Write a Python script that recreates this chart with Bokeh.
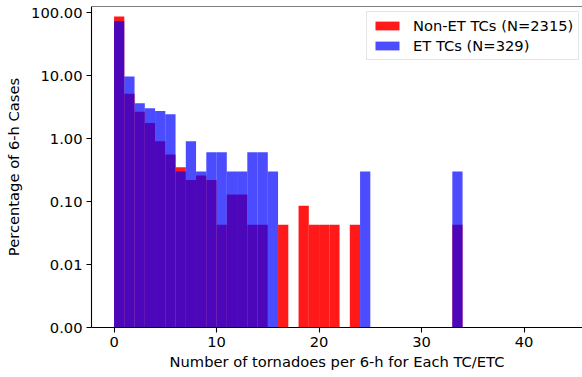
from bokeh.plotting import figure
from bokeh.models import Range1d, FixedTicker, CustomJSTickFormatter, Legend, LegendItem, Span, ColumnDataSource
from bokeh.embed import file_html
from bokeh.resources import INLINE

# Histogram bins: integer edges 0..44
bin_edges = list(range(0, 45))

# Percentage of 6-h cases per bin
non_et_pct = [87.13, 5.18, 2.68, 1.77, 0.91, 0.56, 0.35, 0.22, 0.26, 0.22,
              0.043, 0.13, 0.13, 0.043, 0.043, 0, 0.043, 0, 0.086, 0.043,
              0.043, 0.043, 0, 0.043, 0, 0, 0, 0, 0, 0,
              0, 0, 0, 0.043, 0, 0, 0, 0, 0, 0,
              0, 0, 0, 0]
et_pct = [72.95, 9.73, 3.65, 3.04, 2.74, 2.43, 0.30, 0.91, 0.30, 0.61,
          0.61, 0.30, 0.30, 0.61, 0.61, 0.30, 0, 0, 0, 0,
          0, 0, 0, 0, 0.30, 0, 0, 0, 0, 0,
          0, 0, 0, 0.30, 0, 0, 0, 0, 0, 0,
          0, 0, 0, 0]

non_et_label = "Non-ET TCs (N=2315)"
et_label = "ET TCs (N=329)"
x_ticks = [0, 10, 20, 30, 40]
y_ticks = [0.001, 0.01, 0.1, 1, 10, 100]
y_floor = 0.001

FONT = "DejaVu Sans"
FS = "14.7px"


def bars(pcts):
    lefts, rights, tops = [], [], []
    for i, v in enumerate(pcts):
        if v > 0:
            lefts.append(bin_edges[i])
            rights.append(bin_edges[i + 1])
            tops.append(v)
    return ColumnDataSource(dict(left=lefts, right=rights, top=tops,
                                 bottom=[y_floor] * len(tops)))


p = figure(width=582, height=377, output_backend="svg", toolbar_location=None,
           y_axis_type="log",
           x_range=Range1d(-2.2, 45.7), y_range=Range1d(y_floor, 125.6),
           min_border_left=91, min_border_right=0, min_border_top=6,
           min_border_bottom=50)
p.outline_line_color = None
p.background_fill_color = "white"
p.border_fill_color = "white"
p.xgrid.grid_line_color = None
p.ygrid.grid_line_color = None

r_red = p.quad(left="left", right="right", top="top", bottom="bottom",
               source=bars(non_et_pct), fill_color="#ff0000", fill_alpha=0.9,
               line_color=None)
r_blue = p.quad(left="left", right="right", top="top", bottom="bottom",
                source=bars(et_pct), fill_color="#0000ff", fill_alpha=0.7,
                line_color=None)

# top spine
p.add_layout(Span(location=125.6, dimension="width", line_color="black", line_width=1.1))

for ax in (p.xaxis[0], p.yaxis[0]):
    ax.axis_line_color = "black"
    ax.axis_line_width = 1.1
    ax.major_tick_line_color = "black"
    ax.major_tick_line_width = 1.1
    ax.major_tick_out = 5
    ax.major_tick_in = 0
    ax.minor_tick_line_color = None
    ax.major_label_text_font = FONT
    ax.major_label_text_font_size = FS
    ax.major_label_text_color = "black"
    ax.axis_label_text_font = FONT
    ax.axis_label_text_font_size = FS
    ax.axis_label_text_font_style = "normal"
    ax.axis_label_text_color = "black"
    ax.major_label_standoff = 4

p.xaxis.ticker = FixedTicker(ticks=x_ticks, minor_ticks=[])
p.yaxis.ticker = FixedTicker(ticks=y_ticks, minor_ticks=[])
p.yaxis.formatter = CustomJSTickFormatter(code="return tick.toFixed(2);")
p.xaxis.axis_label = "Number of tornadoes per 6-h for Each TC/ETC"
p.yaxis.axis_label = "Percentage of 6-h Cases"
p.xaxis.axis_label_standoff = 3
p.yaxis.axis_label_standoff = 6

legend = Legend(items=[LegendItem(label=non_et_label, renderers=[r_red]),
                       LegendItem(label=et_label, renderers=[r_blue])],
                location=(275, 267))
legend.label_text_font = FONT
legend.label_text_font_size = FS
legend.label_text_color = "black"
legend.glyph_width = 30
legend.glyph_height = 11
legend.label_standoff = 11
legend.padding = 5
legend.spacing = 3
legend.label_height = 14
legend.margin = 0
legend.border_line_color = "#cccccc"
legend.border_line_width = 1
legend.background_fill_alpha = 0.8
p.add_layout(legend, "center")

open("out.html", "w").write(file_html(p, INLINE))
